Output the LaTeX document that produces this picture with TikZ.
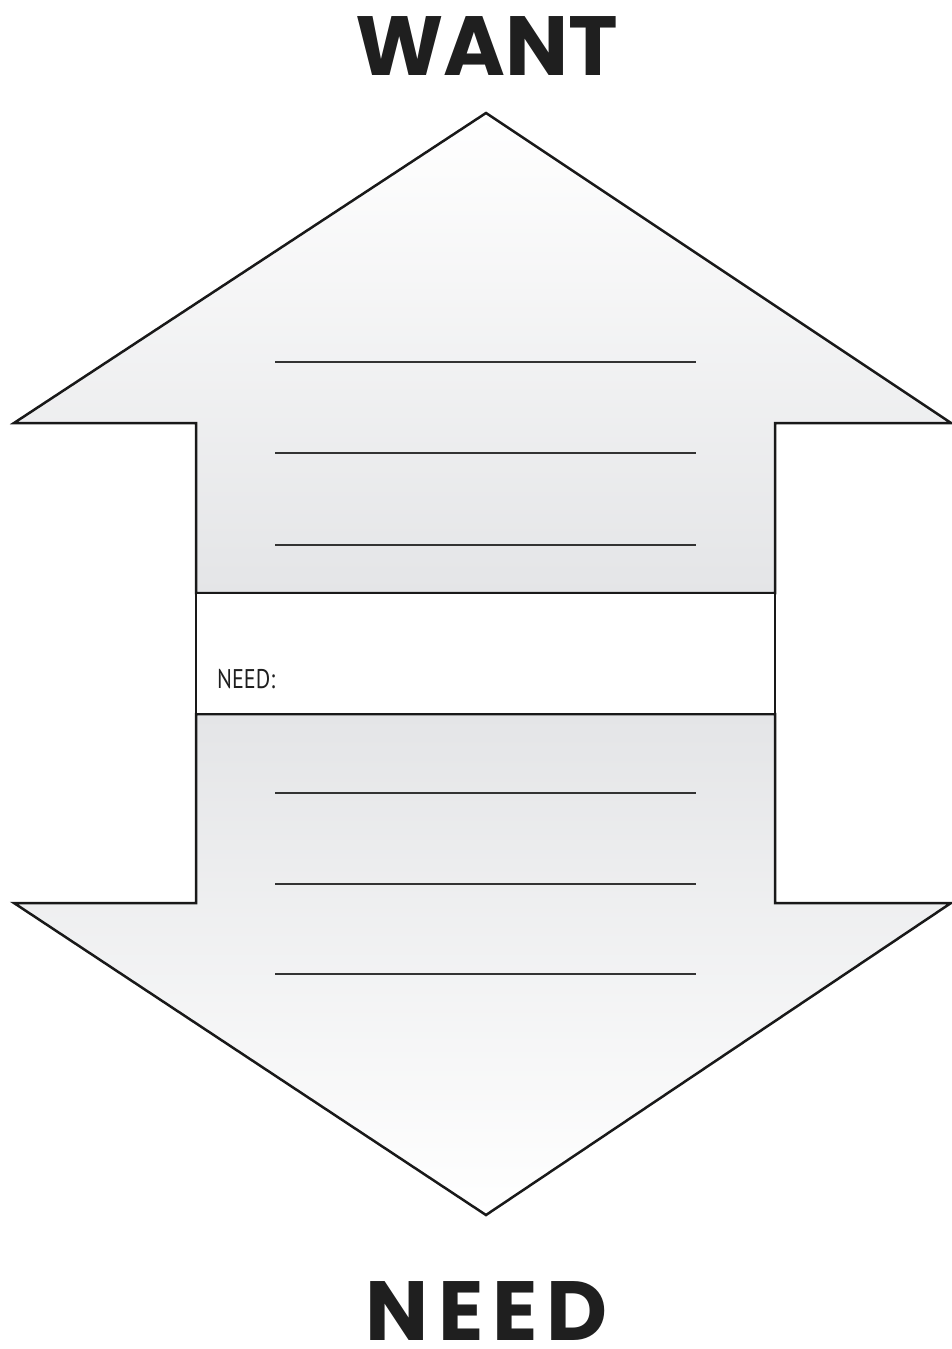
\documentclass[tikz,border=0pt]{standalone}
\usepackage{fontspec}
\newfontfamily\titlefont{Poppins}
\newfontfamily\labelfont{PT Sans}
\definecolor{shaftgray}{HTML}{E4E5E7}
\definecolor{midgray}{HTML}{F7F7F7}
\definecolor{rulegray}{HTML}{333333}
\begin{document}
\begin{tikzpicture}[x=1pt,y=-1pt,
  outline/.style={draw=black!90, line width=2.5pt, line join=miter},
  writeline/.style={draw=rulegray, line width=1.8pt},
  title/.style={font=\titlefont\bfseries\fontsize{84}{84}\selectfont, text=black!88, inner sep=0pt, anchor=base},
  smalllabel/.style={font=\labelfont\fontsize{27}{27}\selectfont, text=black!88, inner sep=0pt, anchor=base west}]
\useasboundingbox (0,0) rectangle (951,1349);
% up arrow
\path[outline, top color=white, middle color=midgray, bottom color=shaftgray]
  (486,113) -- (951,423) -- (775,423) -- (775,593) -- (196,593) -- (196,423) -- (14,423) -- cycle;
% down arrow
\path[outline, top color=shaftgray, middle color=midgray, bottom color=white]
  (196,714) -- (775,714) -- (775,903) -- (951,903) -- (486,1215) -- (14,903) -- (196,903) -- cycle;
% middle box
\path[outline, fill=white] (196,593) rectangle (775,714);
% writing lines
\foreach \yy/\nm in {362/a,453/b,545/c,793/d,884/e,974/f} {
  \coordinate (\nm L) at (275,\yy);
  \coordinate (\nm R) at (696,\yy);
  \draw[writeline] (\nm L) -- (\nm R);
}
\node[title] (want) at (487,75) {WANT};
\node[title] (need) at (487,1340) {N\kern9pt E\kern9pt E\kern9pt D};
\node[smalllabel] (needlabel) at (217,688) {\scalebox{0.82}[1]{NEED:}};
\end{tikzpicture}
\end{document}
